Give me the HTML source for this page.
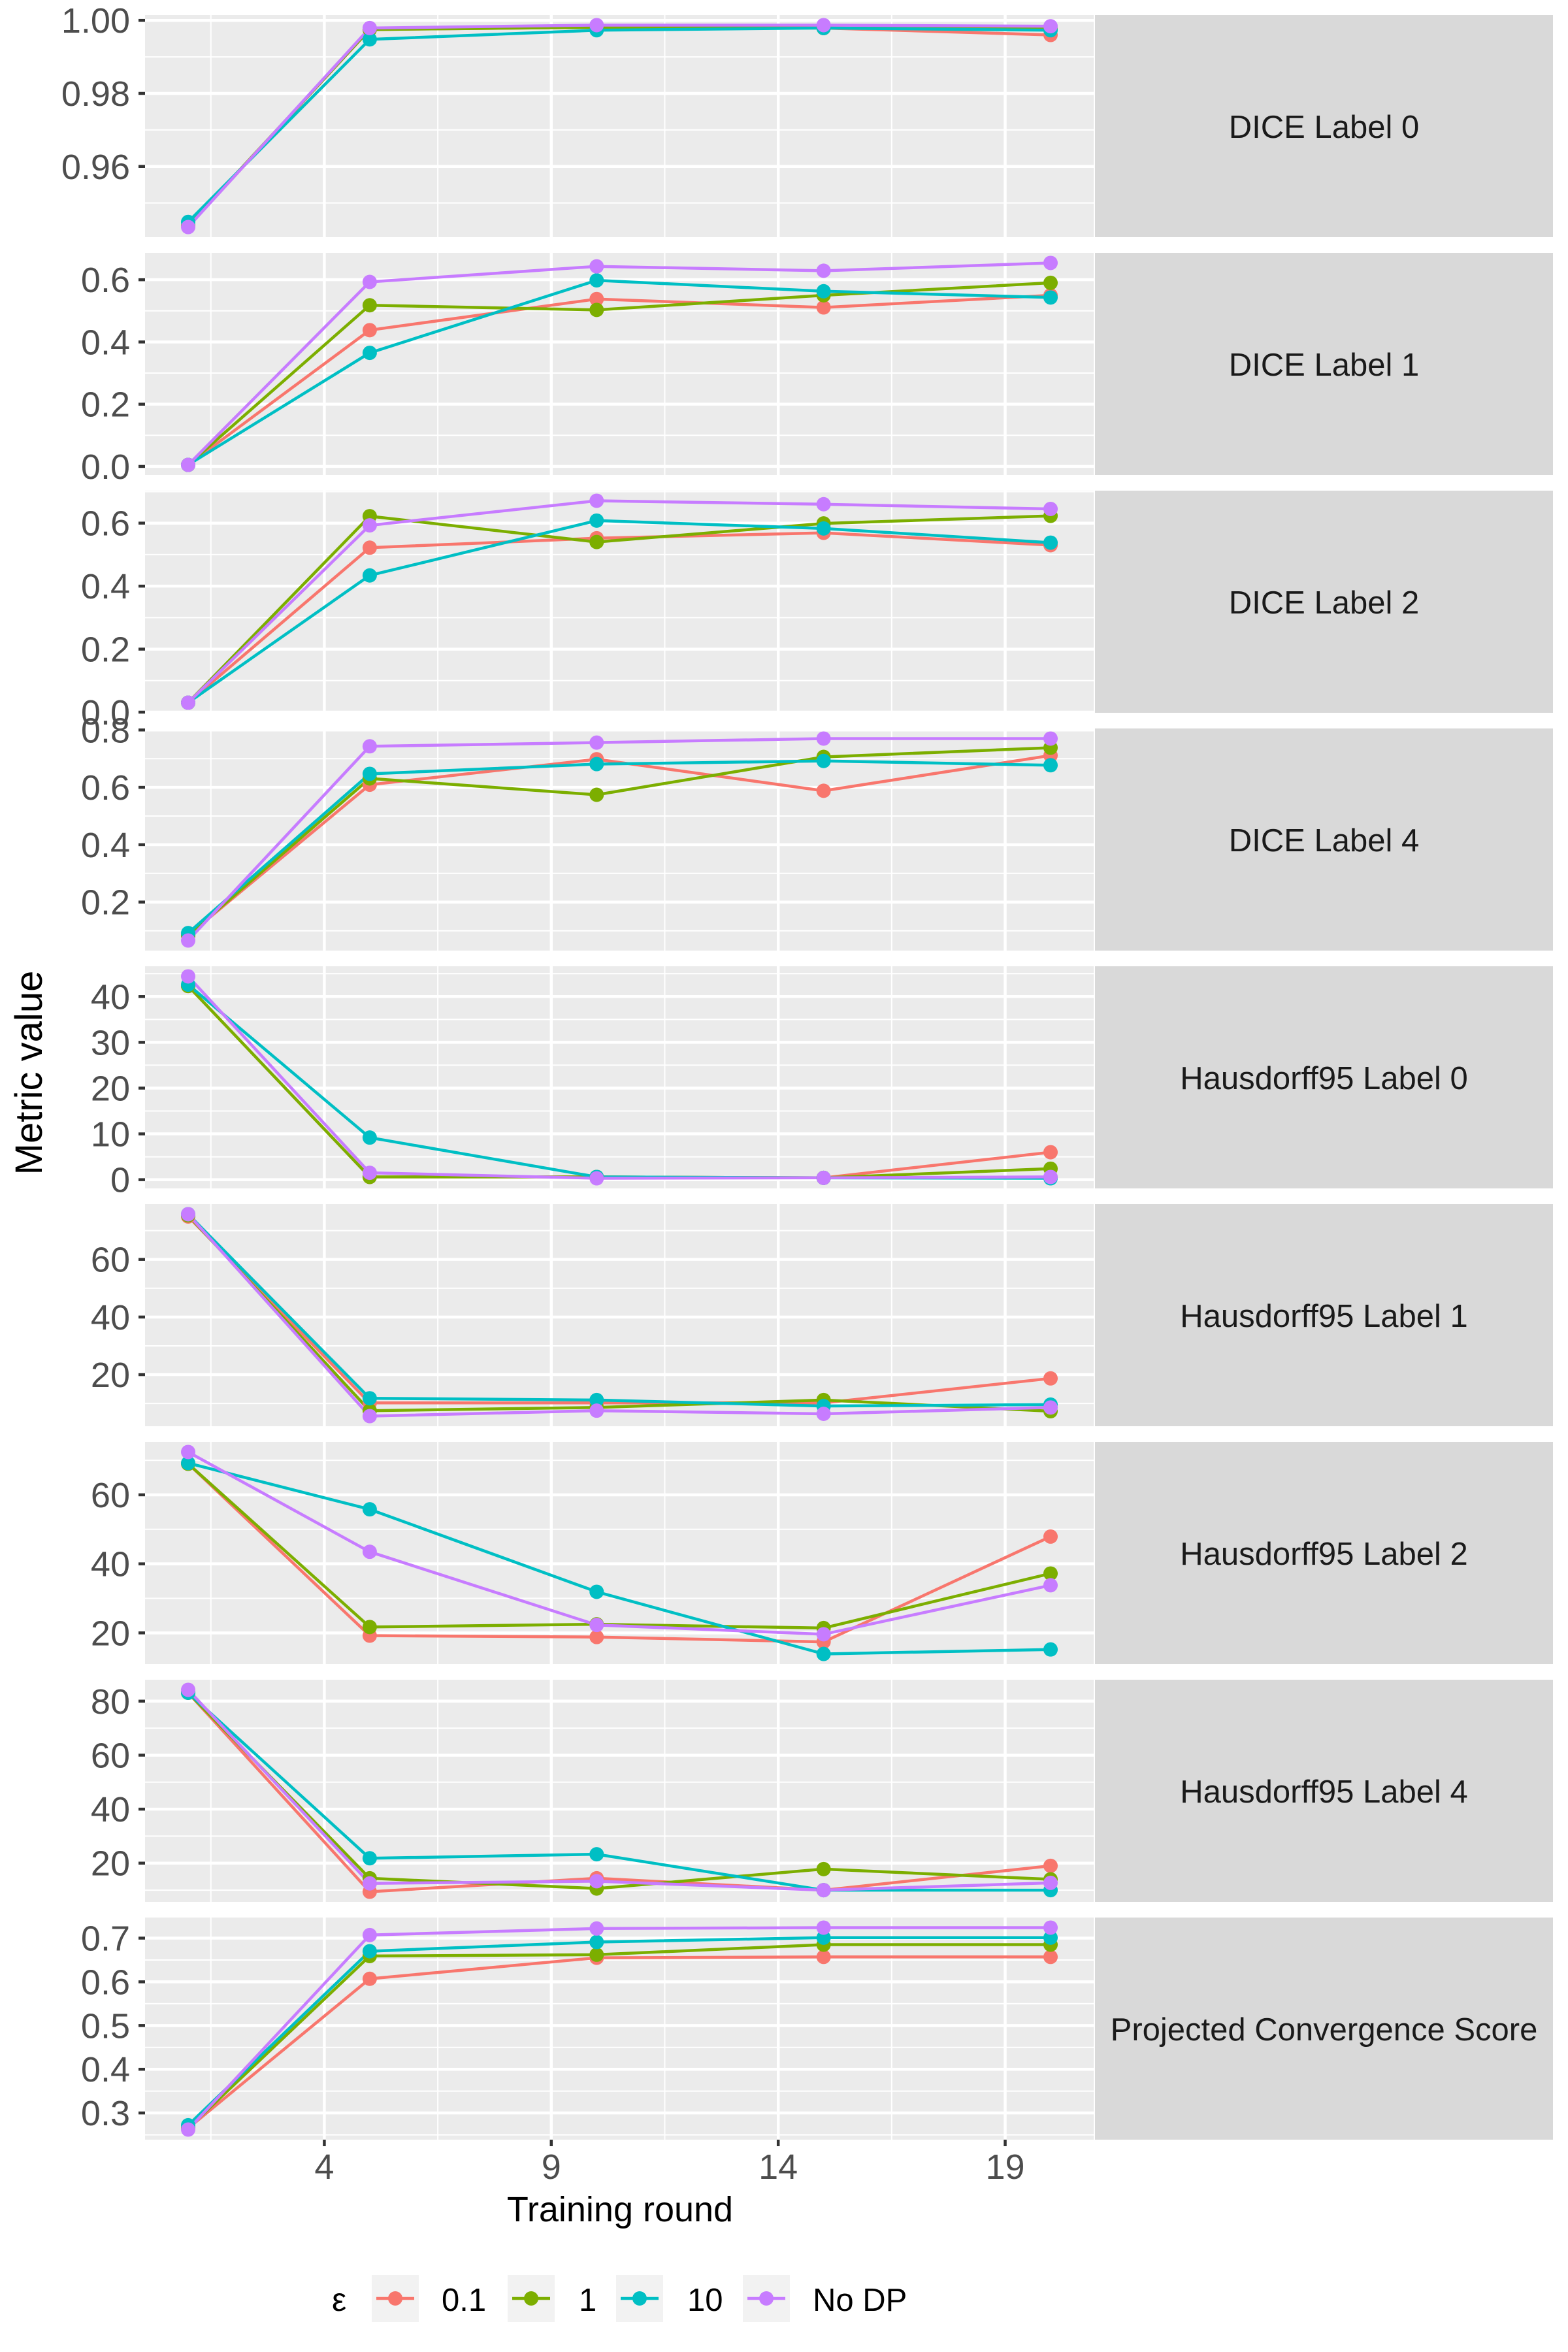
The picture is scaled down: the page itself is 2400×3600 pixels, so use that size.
<!DOCTYPE html>
<html><head><meta charset="utf-8"><style>
html,body{margin:0;padding:0;background:#fff;}
svg{display:block;font-family:"Liberation Sans",Arial,sans-serif;}
</style></head><body>
<svg id="chart" width="2400" height="3600" viewBox="0 0 2400 3600" xmlns="http://www.w3.org/2000/svg">
<rect x="0" y="0" width="2400" height="3600" fill="#ffffff"/>
<g id="panels"></g>
<text x="0" y="0" transform="translate(64,1642) rotate(-90)" text-anchor="middle" font-size="58" fill="#000">Metric value</text>
<text x="949" y="3400" text-anchor="middle" font-size="54" fill="#000">Training round</text>
<g id="legend"></g>
</svg>
<script>
const rounds = [1, 5, 10, 15, 20];
const seriesNames = ["0.1", "1", "10", "No DP"];
const seriesColors = ["#F8766D", "#7CAE00", "#00BFC4", "#C77CFF"];
const facetNames = ["DICE Label 0","DICE Label 1","DICE Label 2","DICE Label 4","Hausdorff95 Label 0","Hausdorff95 Label 1","Hausdorff95 Label 2","Hausdorff95 Label 4","Projected Convergence Score"];
const xTicks = [4, 9, 14, 19];
// values per facet: [eps0.1, eps1, eps10, noDP]
const dice0 = [[0.9436,0.9975,0.9981,0.9979,0.9960],[0.9438,0.9975,0.9981,0.9979,0.9977],[0.9448,0.9948,0.9973,0.9979,0.9973],[0.9434,0.9979,0.9987,0.9987,0.9984]];
const dice1 = [[0.005,0.438,0.538,0.511,0.550],[0.005,0.518,0.503,0.550,0.590],[0.005,0.365,0.598,0.563,0.543],[0.005,0.593,0.643,0.629,0.654]];
const dice2 = [[0.030,0.522,0.552,0.569,0.530],[0.030,0.622,0.540,0.599,0.623],[0.030,0.434,0.608,0.583,0.538],[0.030,0.593,0.671,0.660,0.645]];
const dice4 = [[0.084,0.609,0.698,0.588,0.711],[0.084,0.631,0.574,0.706,0.738],[0.092,0.647,0.681,0.692,0.677],[0.066,0.743,0.756,0.770,0.770]];
const hd0 = [[42.3,0.6,0.6,0.4,6.0],[42.3,0.6,0.6,0.4,2.4],[42.6,9.2,0.6,0.4,0.3],[44.4,1.5,0.3,0.4,0.6]];
const hd1 = [[74.9,10.2,10.2,10.2,18.7],[75.3,7.5,8.6,11.2,7.3],[75.7,11.8,11.2,9.1,9.6],[75.7,5.6,7.5,6.4,8.6]];
const hd2 = [[69.0,19.2,18.8,17.4,47.9],[69.0,21.7,22.5,21.4,37.2],[69.2,55.8,31.9,13.9,15.2],[72.4,43.5,22.3,19.6,33.8]];
const hd4 = [[83.1,9.4,14.4,10.0,19.0],[83.1,14.4,10.6,17.8,14.0],[83.1,21.8,23.3,10.0,10.0],[84.2,12.5,13.3,10.0,12.7]];
const pcs = [[0.265,0.607,0.655,0.657,0.657],[0.265,0.659,0.662,0.685,0.685],[0.272,0.670,0.691,0.701,0.701],[0.262,0.707,0.722,0.724,0.724]];
const facetValues = [dice0, dice1, dice2, dice4, hd0, hd1, hd2, hd4, pcs];
const yTickValues = [[0.96,0.98,1.00],[0,0.2,0.4,0.6],[0,0.2,0.4,0.6],[0.2,0.4,0.6,0.8],[0,10,20,30,40],[20,40,60],[20,40,60],[20,40,60,80],[0.3,0.4,0.5,0.6,0.7]];
const yTickDecimals = [2,1,1,1,0,0,0,0,1];

const NS = "http://www.w3.org/2000/svg";
const PL = 222, PR = 1674, PTOP0 = 23, PH = 340, PSTEP = 364;
const SL = 1676, SR = 2377;
const XMIN = 0.05, XMAX = 20.95;
function xScale(v){ return PL + (v - XMIN) / (XMAX - XMIN) * (PR - PL); }
function mk(tag, attrs, parent){ const e = document.createElementNS(NS, tag); for (const k in attrs) e.setAttribute(k, attrs[k]); parent.appendChild(e); return e; }
const root = document.getElementById('panels');

facetValues.forEach((vals, fi) => {
  const top = PTOP0 + fi * PSTEP, bot = top + PH;
  let mn = Infinity, mx = -Infinity;
  vals.forEach(s => s.forEach(v => { mn = Math.min(mn, v); mx = Math.max(mx, v); }));
  const r = mx - mn, d0 = mn - 0.05 * r, d1 = mx + 0.05 * r;
  const yScale = v => bot - (v - d0) / (d1 - d0) * PH;
  const g = mk('g', {}, root);
  
  
  const bg = mk('rect', {x: PL, y: top, width: PR - PL, height: PH, fill: '#EBEBEB'}, g);
  
  
  const clipId = 'clip' + fi;
  const cp = mk('clipPath', {id: clipId}, g);
  mk('rect', {x: PL, y: top, width: PR - PL, height: PH}, cp);
  const grid = mk('g', {'clip-path': 'url(#' + clipId + ')'}, g);
  
  
  const ticks = yTickValues[fi];
  const step = ticks[1] - ticks[0];
  for (let k = -1; k < ticks.length; k++) {
    const mv = ticks[0] + (k + 0.5) * step;
    const y = yScale(mv);
    if (y > top && y < bot) mk('line', {x1: PL, x2: PR, y1: y, y2: y, stroke: '#fff', 'stroke-width': 2}, grid);
  }
  [1.5, 6.5, 11.5, 16.5].forEach(xv => mk('line', {x1: xScale(xv), x2: xScale(xv), y1: top, y2: bot, stroke: '#fff', 'stroke-width': 2}, grid));
  ticks.forEach(t => { const y = yScale(t); mk('line', {x1: PL, x2: PR, y1: y, y2: y, stroke: '#fff', 'stroke-width': 4.5}, grid); });
  xTicks.forEach(t => { const x = xScale(t); mk('line', {x1: x, x2: x, y1: top, y2: bot, stroke: '#fff', 'stroke-width': 4.5}, grid); });
  ticks.forEach(t => {
    const y = yScale(t);
    const tm = mk('line', {x1: PL - 10, x2: PL, y1: y, y2: y, stroke: '#333', 'stroke-width': 4.5}, g);
    
    
    const tl = mk('text', {x: 199, y: y + 19, 'text-anchor': 'end', 'font-size': 54, fill: '#4D4D4D'}, g);
    
    
    tl.textContent = t.toFixed(yTickDecimals[fi]);
  });
  vals.forEach((s, si) => {
    const pts = s.map((v, i) => xScale(rounds[i]).toFixed(1) + ',' + yScale(v).toFixed(1)).join(' ');
    const pl = mk('polyline', {points: pts, fill: 'none', stroke: seriesColors[si], 'stroke-width': 4.5, 'stroke-linejoin': 'round'}, g);
    
    
  });
  vals.forEach((s, si) => {
    s.forEach((v, i) => {
      const c = mk('circle', {cx: xScale(rounds[i]), cy: yScale(v), r: 11, fill: seriesColors[si]}, g);
      
      
    });
  });
  const strip = mk('rect', {x: SL, y: top, width: SR - SL, height: PH, fill: '#D9D9D9'}, g);
  
  
  const st = mk('text', {x: (SL + SR) / 2, y: top + PH / 2 + 18, 'text-anchor': 'middle', 'font-size': 49, fill: '#1A1A1A'}, g);
  
  
  st.textContent = facetNames[fi];
  if (fi === facetValues.length - 1) {
    xTicks.forEach(t => {
      const x = xScale(t);
      const tm = mk('line', {x1: x, x2: x, y1: bot, y2: bot + 10, stroke: '#333', 'stroke-width': 4.5}, g);
      
      
      const tl = mk('text', {x: x, y: 3335, 'text-anchor': 'middle', 'font-size': 54, fill: '#4D4D4D'}, g);
      
      
      tl.textContent = String(t);
    });
  }
});

const lg = document.getElementById('legend');
const lt = mk('text', {x: 508, y: 3537, 'font-size': 50, fill: '#000'}, lg);


lt.textContent = 'ε';
const keyCenters = [605, 813, 979, 1173];
const labelX = [676, 886, 1052, 1244];
seriesNames.forEach((n, i) => {
  const cx = keyCenters[i];
  const eg = mk('g', {}, lg);
  
  
  mk('rect', {x: cx - 36, y: 3482, width: 72, height: 72, fill: '#F2F2F2'}, eg);
  mk('line', {x1: cx - 29, x2: cx + 29, y1: 3518, y2: 3518, stroke: seriesColors[i], 'stroke-width': 4.5}, eg);
  mk('circle', {cx: cx, cy: 3518, r: 11, fill: seriesColors[i]}, eg);
  const tx = mk('text', {x: labelX[i], y: 3537, 'font-size': 49, fill: '#000'}, eg);
  
  
  tx.textContent = n;
});
</script>
</body></html>
